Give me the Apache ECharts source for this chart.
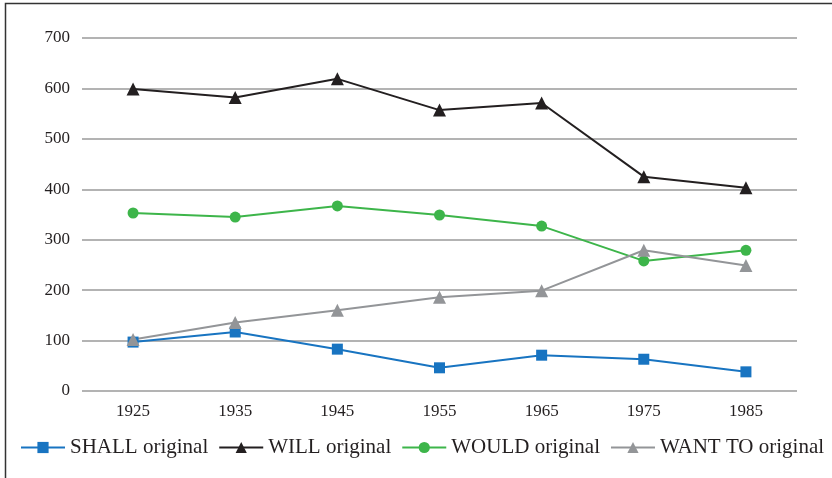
<!DOCTYPE html>
<html>
<head>
<meta charset="utf-8">
<script src="https://cdn.jsdelivr.net/npm/echarts@6/dist/echarts.min.js"></script>
<style>
  html, body { margin: 0; padding: 0; background: #fff; }
  #chart { width: 832px; height: 478px; }
</style>
</head>
<body>
<div id="chart"></div>
<script>
const years = ['1925', '1935', '1945', '1955', '1965', '1975', '1985']
const shall = [97, 117, 83, 46, 71, 63, 38]
const will = [599, 582, 619, 557, 571, 425, 403]
const would = [353, 345, 367, 349, 327, 258, 279]
const wantTo = [102, 136, 160, 186, 199, 279, 249]

const font = 'Liberation Serif'
const chart = echarts.init(document.getElementById('chart'))

const mk = (name, data, color, symbol, size) => ({
  name,
  type: 'line',
  data,
  symbol,
  symbolSize: size,
  showAllSymbol: true,
  lineStyle: { color, width: 2 },
  itemStyle: { color },
  emphasis: { disabled: true }
})

chart.setOption({
  animation: false,
  backgroundColor: '#fff',
  textStyle: { fontFamily: font },
  graphic: [{
    type: 'rect',
    shape: { x: 5.5, y: 3.5, width: 900, height: 600 },
    style: { fill: 'none', stroke: '#333', lineWidth: 1.5 },
    silent: true
  }],
  grid: { left: 82, right: 35, top: 38, bottom: 87 },
  legend: {
    bottom: 20,
    left: 20,
    width: 830,
    padding: 0,
    itemWidth: 44,
    itemHeight: 14,
    itemGap: 10,
    textStyle: { fontFamily: font, fontSize: 21, color: '#231f20' },
    data: ['SHALL original', 'WILL original', 'WOULD original', 'WANT TO original']
  },
  xAxis: {
    type: 'category',
    data: years,
    axisLine: { show: false },
    axisTick: { show: false },
    axisLabel: { fontFamily: font, fontSize: 17, color: '#231f20', margin: 12 }
  },
  yAxis: {
    type: 'value',
    min: 0,
    max: 700,
    interval: 100,
    axisLine: { show: false },
    axisTick: { show: false },
    axisLabel: { fontFamily: font, fontSize: 17, color: '#231f20', margin: 12 },
    splitLine: { lineStyle: { color: '#b3b3b3', width: 2 } }
  },
  series: [
    mk('SHALL original', shall, '#1874c1', 'rect', 11),
    mk('WILL original', will, '#231f20', 'triangle', 13),
    mk('WOULD original', would, '#3db54a', 'circle', 11),
    mk('WANT TO original', wantTo, '#939598', 'triangle', 13)
  ]
})
</script>
</body>
</html>
